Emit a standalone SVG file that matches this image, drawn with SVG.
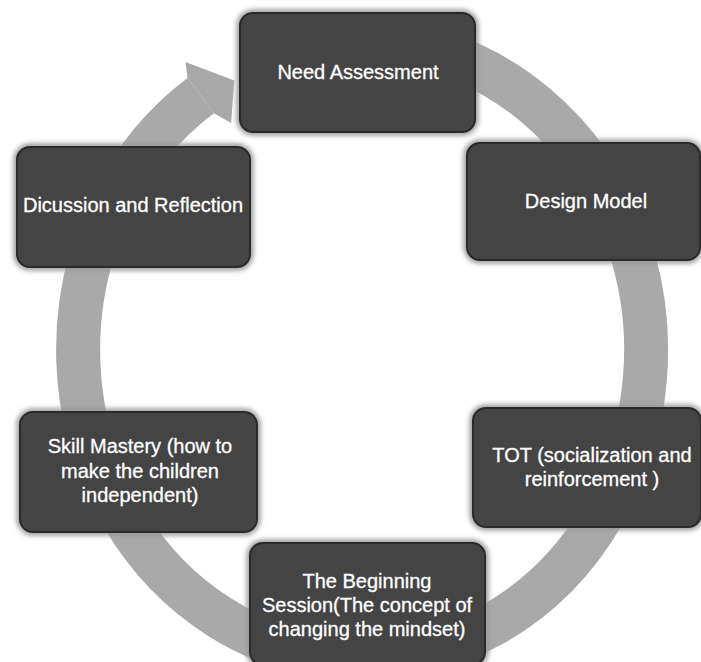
<svg xmlns="http://www.w3.org/2000/svg" width="701" height="662" viewBox="0 0 701 662">
<style>
.box{fill:#444444;stroke:#2a2a2a;stroke-width:2}
.halo{fill:none;stroke:#9a9a9a;stroke-width:7;filter:url(#blur)}
.lbl{font-family:"Liberation Sans",Arial,sans-serif;font-size:20px;fill:#ffffff;stroke:#ffffff;stroke-width:0.3;text-anchor:middle}
.ring{fill:none;stroke:#a9a9a9;stroke-width:44}
.head{fill:#a9a9a9}
</style>
<defs>
<filter id="blur" x="-10%" y="-10%" width="120%" height="120%">
<feGaussianBlur stdDeviation="2.5"/>
</filter>
</defs>
<rect width="701" height="662" fill="#ffffff"/>
<g id="connectors">
<path class="ring" d="M264.9,59.6 A284,309 0 1 1 200.7,95.7"/>
<polygon class="head" points="187.5,78.1 185.5,62.1 234.3,80.5 231.1,122.9 213.9,113.3"/>
</g>
<g id="node-need">
<rect class="halo" x="240" y="13" width="235" height="119" rx="13"/>
<rect class="box" x="240" y="13" width="235" height="119" rx="13"/>
<text class="lbl" x="358" y="79">Need Assessment</text>
</g>
<g id="node-design">
<rect class="halo" x="467" y="143" width="233" height="117" rx="13"/>
<rect class="box" x="467" y="143" width="233" height="117" rx="13"/>
<text class="lbl" x="586" y="208">Design Model</text>
</g>
<g id="node-tot">
<rect class="halo" x="473" y="408" width="228" height="119" rx="13"/>
<rect class="box" x="473" y="408" width="228" height="119" rx="13"/>
<text class="lbl" x="592" y="462">TOT (socialization and</text>
<text class="lbl" x="592" y="486">reinforcement )</text>
</g>
<g id="node-beginning">
<rect class="halo" x="250" y="543" width="235" height="122" rx="13"/>
<rect class="box" x="250" y="543" width="235" height="122" rx="13"/>
<text class="lbl" x="367" y="588">The Beginning</text>
<text class="lbl" x="367" y="612">Session(The concept of</text>
<text class="lbl" x="367" y="636">changing the mindset)</text>
</g>
<g id="node-skill">
<rect class="halo" x="20" y="412" width="237" height="120" rx="13"/>
<rect class="box" x="20" y="412" width="237" height="120" rx="13"/>
<text class="lbl" x="140" y="453">Skill Mastery (how to</text>
<text class="lbl" x="140" y="478">make the children</text>
<text class="lbl" x="140" y="502">independent)</text>
</g>
<g id="node-discussion">
<rect class="halo" x="17" y="147" width="233" height="120" rx="13"/>
<rect class="box" x="17" y="147" width="233" height="120" rx="13"/>
<text class="lbl" x="133" y="212">Dicussion and Reflection</text>
</g>
</svg>
